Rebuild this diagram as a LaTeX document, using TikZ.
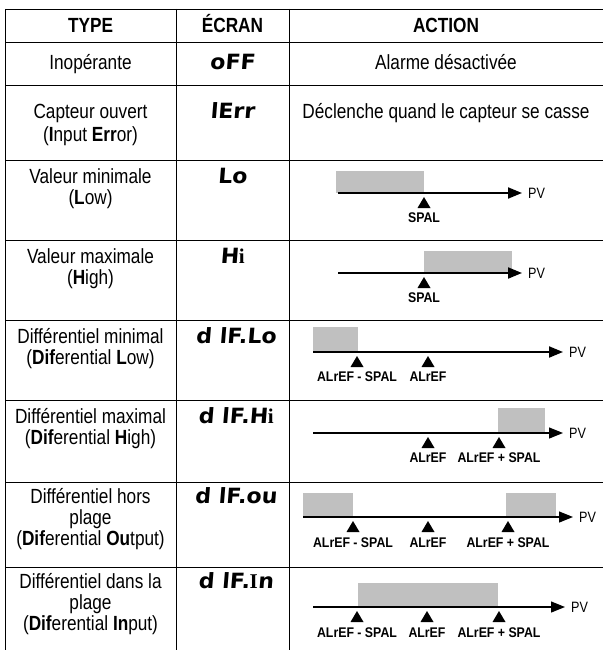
\documentclass[tikz,border=0pt]{standalone}
\usepackage{fontspec}
\usetikzlibrary{arrows.meta}
\setmainfont[FakeStretch=0.84]{Liberation Sans}
\newfontfamily\lblfam[FakeStretch=0.88]{Liberation Sans}
\newfontfamily\segfam[FakeSlant=0.08,FakeStretch=1.05]{DejaVu Sans}
\newfontfamily\serfam{Liberation Serif}
\definecolor{zonegray}{HTML}{C0C0C0}
\newcommand\txfont{\fontsize{20.5}{22}\selectfont}
\newcommand\hdfont{\bfseries\fontsize{20.5}{22}\selectfont}
\newcommand\sgfont{\segfam\bfseries\fontsize{21}{22}\selectfont}
\newcommand\lbfont{\lblfam\bfseries\fontsize{14}{15}\selectfont}
\newcommand\pvfont{\fontsize{15}{15}\selectfont}
\newcommand\sri{{\serfam\bfseries i}}
\newcommand\srI{{\serfam\bfseries I}}
\newcommand\mk[2]{\fill ({#1-6.5},{#2+15}) -- (#1,{#2+4}) -- ({#1+6.5},{#2+15}) -- cycle;}
\begin{document}
\begin{tikzpicture}[x=1pt,y=-1pt,
  rule/.style={line width=0.9pt},
  hd/.style={font=\hdfont, anchor=base, inner sep=0pt},
  tx/.style={font=\txfont, anchor=base, inner sep=0pt},
  sg/.style={font=\sgfont, anchor=base, inner sep=0pt},
  lb/.style={font=\lbfont, anchor=base, inner sep=0pt},
  pv/.style={font=\pvfont, anchor=base west, inner sep=0pt},
  zone/.style={fill=zonegray},
  axthin/.style={line width=1.2pt},
  axthick/.style={line width=2pt},
  tip/.style={-{Triangle[length=14pt,width=11pt]}}]
\useasboundingbox (0,0) rectangle (603,650);
% grid
\foreach \yy in {9,42,85,160,240,320,400,482,567}
  \draw[rule] (5,\yy) -- (603,\yy);
\foreach \xx in {5,176,289}
  \draw[rule] (\xx,9) -- (\xx,651);
% header
\node[hd] (h1) at (90.5,33) {TYPE};
\node[hd] (h2) at (232.5,33) {ÉCRAN};
\node[hd] (h3) at (446,33) {ACTION};
% row off
\node[tx] (t1) at (90.5,70) {Inopérante};
\node[sg] (s1) at (232.5,70) {oFF};
\node[tx] (a1) at (446,70) {Alarme désactivée};
% row ierr
\node[tx] (t2a) at (90.5,119) {Capteur ouvert};
\node[tx] (t2b) at (90.5,141) {(\textbf{I}nput \textbf{Err}or)};
\node[sg] (s2) at (232.5,119) {lErr};
\node[tx] (a2) at (446,119) {Déclenche quand le capteur se casse};
% row Lo
\node[tx] (t3a) at (90.5,183) {Valeur minimale};
\node[tx] (t3b) at (90.5,204) {(\textbf{L}ow)};
\node[sg] (s3) at (232.5,183) {Lo};
\fill[zone] (336,171) rectangle (424,193);
\draw[axthick,tip] (338,193) -- (522,193);
\mk{424}{193}
\node[lb] (l3) at (424,222) {SPAL};
\node[pv] (p3) at (528,198) {PV};
% row Hi
\node[tx] (t4a) at (90.5,263) {Valeur maximale};
\node[tx] (t4b) at (90.5,284) {(\textbf{H}igh)};
\node[sg] (s4) at (232.5,263) {H\sri};
\fill[zone] (424,251) rectangle (512,273);
\draw[axthick,tip] (338,273) -- (522,273);
\mk{424}{273}
\node[lb] (l4) at (424,302) {SPAL};
\node[pv] (p4) at (528,278) {PV};
% row difLo
\node[tx] (t5a) at (90.5,343) {Différentiel minimal};
\node[tx] (t5b) at (90.5,364) {(\textbf{Dif}erential \textbf{L}ow)};
\node[sg] (s5) at (236,343) {d lF.Lo};
\fill[zone] (313,327) rectangle (358,352);
\draw[axthin] (313,352) -- (357,352);
\draw[axthick,tip] (357,352) -- (563,352);
\mk{357}{352}\mk{428}{352}
\node[lb] (l5a) at (357,381) {ALrEF - SPAL};
\node[lb] (l5b) at (428,381) {ALrEF};
\node[pv] (p5) at (569,357) {PV};
% row difHi
\node[tx] (t6a) at (90.5,423) {Différentiel maximal};
\node[tx] (t6b) at (90.5,444) {(\textbf{Dif}erential \textbf{H}igh)};
\node[sg] (s6) at (236,423) {d lF.H\sri};
\fill[zone] (498,408) rectangle (545,433);
\draw[axthin] (313,433) -- (356,433);
\draw[axthick] (356,433) -- (499,433);
\draw[axthin,tip] (499,433) -- (563,433);
\mk{428}{433}\mk{499}{433}
\node[lb] (l6a) at (428,462) {ALrEF};
\node[lb] (l6b) at (499,462) {ALrEF + SPAL};
\node[pv] (p6) at (569,438) {PV};
% row difOut
\node[tx] (t7a) at (90.5,503) {Différentiel hors};
\node[tx] (t7b) at (90.5,524) {plage};
\node[tx] (t7c) at (90.5,545) {(\textbf{Dif}erential \textbf{Ou}tput)};
\node[sg] (s7) at (236,503) {d lF.ou};
\fill[zone] (303,493) rectangle (353,517);
\fill[zone] (506,493) rectangle (556,517);
\draw[axthin] (303,517) -- (353,517);
\draw[axthick] (353,517) -- (508,517);
\draw[axthin,tip] (508,517) -- (573,517);
\mk{353}{517}\mk{428}{517}\mk{508}{517}
\node[lb] (l7a) at (353,547) {ALrEF - SPAL};
\node[lb] (l7b) at (428,547) {ALrEF};
\node[lb] (l7c) at (508,547) {ALrEF + SPAL};
\node[pv] (p7) at (579,522) {PV};
% row difIn
\node[tx] (t8a) at (90.5,588) {Différentiel dans la};
\node[tx] (t8b) at (90.5,609) {plage};
\node[tx] (t8c) at (90.5,630) {(\textbf{Dif}erential \textbf{In}put)};
\node[sg] (s8) at (236,588) {d lF.\srI n};
\fill[zone] (358,583) rectangle (498,607);
\draw[axthin] (313,607) -- (357,607);
\draw[axthick] (357,607) -- (499,607);
\draw[axthin,tip] (499,607) -- (565,607);
\mk{357}{607}\mk{427}{607}\mk{499}{607}
\node[lb] (l8a) at (357,637) {ALrEF - SPAL};
\node[lb] (l8b) at (427,637) {ALrEF};
\node[lb] (l8c) at (499,637) {ALrEF + SPAL};
\node[pv] (p8) at (571,612) {PV};
\end{tikzpicture}
\end{document}
